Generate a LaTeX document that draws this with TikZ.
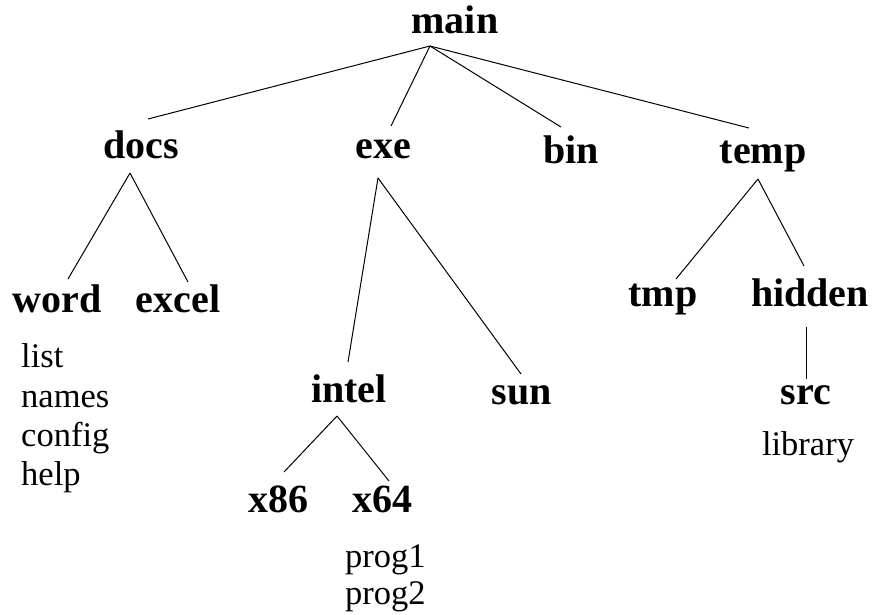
\documentclass[tikz,border=0pt]{standalone}
\usepackage{fontspec}
\setmainfont{Liberation Serif}
\begin{document}
\begin{tikzpicture}[x=1pt,y=-1pt,
  dir/.style={font=\fontsize{40}{44}\selectfont\bfseries, inner sep=0pt, anchor=base},
  file/.style={font=\fontsize{34.5}{39}\selectfont, inner sep=0pt, anchor=base west},
  fileC/.style={font=\fontsize{34.5}{39}\selectfont, inner sep=0pt, anchor=base},
  edge/.style={line width=1pt, black}]
\useasboundingbox (0,0) rectangle (873,614);
% directories
\node[dir] (main)   at (455,33)  {main};
\node[dir] (docs)   at (141,158) {docs};
\node[dir] (exe)    at (383,158) {exe};
\node[dir] (bin)    at (571,163) {bin};
\node[dir] (temp)   at (763,163) {temp};
\node[dir] (word)   at (57,312)  {word};
\node[dir] (excel)  at (178,312) {excel};
\node[dir] (tmp)    at (663,306) {tmp};
\node[dir] (hidden) at (810,306) {hidden};
\node[dir] (intel)  at (349,402) {intel};
\node[dir] (sun)    at (522,404) {sun};
\node[dir] (src)    at (806,404) {src};
\node[dir] (x86)    at (278,512) {x86};
\node[dir] (x64)    at (382,512) {x64};
% files
\node[file] (f1) at (21,367) {list};
\node[file] (f2) at (21,407) {names};
\node[file] (f3) at (21,446) {config};
\node[file] (f4) at (21,485) {help};
\node[fileC] (lib) at (808,455) {library};
\node[file] (p1) at (345,567) {prog1};
\node[file] (p2) at (345,604) {prog2};
% connectors
\draw[edge] ([shift={(-25,13)}]main.base) -- ([shift={(7,-39)}]docs.base);
\draw[edge] ([shift={(-25,13)}]main.base) -- ([shift={(8,-32)}]exe.base);
\draw[edge] ([shift={(-25,13)}]main.base) -- ([shift={(-10,-36)}]bin.base);
\draw[edge] ([shift={(-25,13)}]main.base) -- ([shift={(-14,-35)}]temp.base);
\draw[edge] ([shift={(-11,15)}]docs.base) -- ([shift={(11,-33)}]word.base);
\draw[edge] ([shift={(-11,15)}]docs.base) -- ([shift={(10,-30)}]excel.base);
\draw[edge] ([shift={(-5,20)}]exe.base) -- ([shift={(-1,-40)}]intel.base);
\draw[edge] ([shift={(-5,20)}]exe.base) -- ([shift={(-1,-30)}]sun.base);
\draw[edge] ([shift={(-5,16)}]temp.base) -- ([shift={(13,-27)}]tmp.base);
\draw[edge] ([shift={(-5,16)}]temp.base) -- ([shift={(-6,-40)}]hidden.base);
\draw[edge] ([shift={(-4,21)}]hidden.base) -- ([shift={(0,-25)}]src.base);
\draw[edge] ([shift={(-12,14)}]intel.base) -- ([shift={(6,-40)}]x86.base);
\draw[edge] ([shift={(-12,14)}]intel.base) -- ([shift={(7,-31)}]x64.base);
\end{tikzpicture}
\end{document}
